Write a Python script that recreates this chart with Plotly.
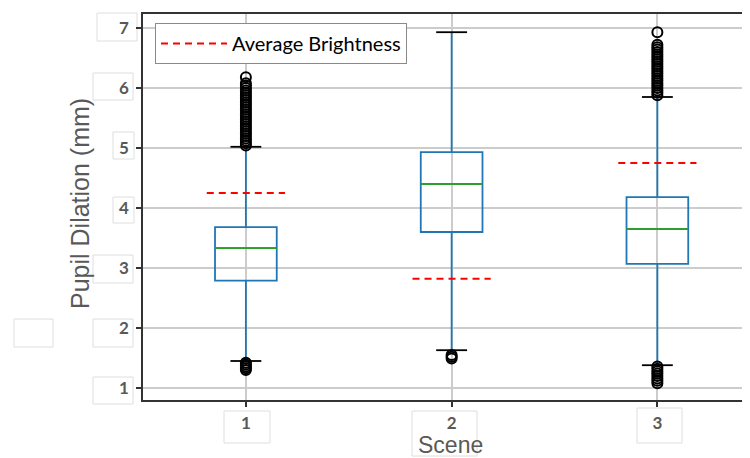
import plotly.graph_objects as go

# ---------------- data ----------------
scenes = [1, 2, 3]
q1 = [2.79, 3.60, 3.07]
medians = [3.33, 4.40, 3.65]
q3 = [3.68, 4.93, 4.18]
whisker_low = [1.45, 1.63, 1.38]
whisker_high = [5.02, 6.93, 5.85]
avg_brightness = [4.25, 2.82, 4.75]

fliers_scene1 = [1.30, 1.33, 1.36, 1.39, 1.42,
                 5.04, 5.08, 5.12, 5.16, 5.20, 5.24, 5.28, 5.32, 5.36, 5.40,
                 5.44, 5.48, 5.52, 5.56, 5.60, 5.64, 5.68, 5.72, 5.76, 5.80,
                 5.84, 5.88, 5.92, 5.96, 6.00, 6.04, 6.08, 6.18]
fliers_scene2 = [1.49, 1.52, 1.55]
fliers_scene3 = [1.08, 1.12, 1.16, 1.20, 1.24, 1.28, 1.32, 1.36,
                 5.88, 5.92, 5.96, 6.00, 6.04, 6.08, 6.12, 6.16, 6.20, 6.24,
                 6.28, 6.32, 6.36, 6.40, 6.44, 6.48, 6.52, 6.56, 6.60, 6.64,
                 6.68, 6.72, 6.93]

y_ticks = [1, 2, 3, 4, 5, 6, 7]
x_tick_labels = ["1", "2", "3"]
x_title = "Scene"
y_title = "Pupil Dilation (mm)"
legend_label = "Average Brightness"

# ---------------- geometry ----------------
PAGE_OFF = 8                 # default body margin of the html page
W, H = 750 - PAGE_OFF, 458 - PAGE_OFF
PL, PT, PB = 143, 14, 400    # plot area edges in page pixels
ML, MT, MR = PL - PAGE_OFF, PT - PAGE_OFF, 0
MB = H - (PB - PAGE_OFF)
pw, ph = W - ML - MR, H - MT - MB

BOX_W = 0.3
CAP_HALF = 0.075
AVG_HALF = 0.19


def px_x(x):
    return (x - PL) / pw


def px_y(y):
    return (PB - y) / ph


fig = go.Figure()

fig.add_trace(go.Box(
    x=scenes, q1=q1, median=medians, q3=q3,
    lowerfence=whisker_low, upperfence=whisker_high,
    width=BOX_W, whiskerwidth=0, boxpoints=False,
    line=dict(color="#1f77b4", width=1.8),
    fillcolor="rgba(0,0,0,0)", showlegend=False, hoverinfo="skip",
))

# medians (green)
mx, my = [], []
for s, m in zip(scenes, medians):
    mx += [s - BOX_W / 2, s + BOX_W / 2, None]
    my += [m, m, None]
fig.add_trace(go.Scatter(x=mx, y=my, mode="lines",
                         line=dict(color="#2ca02c", width=1.8),
                         showlegend=False, hoverinfo="skip"))

# whisker caps (black)
cx, cy = [], []
for s, lo, hi in zip(scenes, whisker_low, whisker_high):
    cx += [s - CAP_HALF, s + CAP_HALF, None, s - CAP_HALF, s + CAP_HALF, None]
    cy += [lo, lo, None, hi, hi, None]
fig.add_trace(go.Scatter(x=cx, y=cy, mode="lines",
                         line=dict(color="black", width=1.8),
                         showlegend=False, hoverinfo="skip"))

# fliers
for s, fl in zip(scenes, [fliers_scene1, fliers_scene2, fliers_scene3]):
    fig.add_trace(go.Scatter(
        x=[s] * len(fl), y=fl, mode="markers",
        marker=dict(symbol="circle-open", size=10, color="black",
                    line=dict(width=2, color="black")),
        showlegend=False, hoverinfo="skip"))

# average brightness (red dashed)
ax, ay = [], []
for s, a in zip(scenes, avg_brightness):
    ax += [s - AVG_HALF, s + AVG_HALF, None]
    ay += [a, a, None]
fig.add_trace(go.Scatter(x=ax, y=ay, mode="lines", name=legend_label,
                         line=dict(color="red", width=2, dash="7px,5px"),
                         hoverinfo="skip"))

# ---------------- decoration: faint boxes around tick labels ----------------
label_boxes = [
    (97, 13, 137, 41), (93, 73, 133, 100), (113, 132, 134, 159),
    (113, 197, 134, 223), (93, 255, 133, 283), (93, 319, 133, 347),
    (14, 319, 53, 347), (93, 377, 133, 404),
    (224, 411, 270, 443), (412, 411, 477, 456), (637, 408, 682, 443),
]
shapes = []
for (x0, y0, x1, y1) in label_boxes:
    shapes.append(dict(type="rect", xref="paper", yref="paper", layer="below",
                       x0=px_x(x0), x1=px_x(x1), y0=px_y(y1), y1=px_y(y0),
                       line=dict(color="#dedede", width=1),
                       fillcolor="white"))

tick_font = dict(family="Lato", size=17, color="#595959", weight="bold")
title_font = dict(family="Liberation Sans", size=25, color="#595959")

annotations = [
    dict(text=x_title, xref="paper", yref="paper", x=px_x(450), y=px_y(445),
         xanchor="center", yanchor="middle", showarrow=False,
         font=dict(family="Liberation Sans", size=23, color="#595959"),
         borderpad=0),
    dict(text=y_title, xref="paper", yref="paper", x=px_x(80), y=px_y(204),
         xanchor="center", yanchor="middle", showarrow=False, textangle=-90,
         font=title_font),
]

fig.update_layout(
    width=W, height=H,
    margin=dict(l=ML, r=MR, t=MT, b=MB, autoexpand=False),
    paper_bgcolor="white", plot_bgcolor="white",
    shapes=shapes, annotations=annotations,
    showlegend=True,
    legend=dict(x=px_x(155), y=px_y(23), xanchor="left", yanchor="top",
                bgcolor="white", bordercolor="#8a8a8a", borderwidth=1,
                font=dict(family="Lato", size=20, color="black"),
                itemwidth=66),
    xaxis=dict(
        range=[0.5, 0.5 + pw / 205.75],
        tickmode="array", tickvals=scenes, ticktext=x_tick_labels,
        tickfont=tick_font, ticks="outside", ticklen=5, tickwidth=1.5,
        tickcolor="#333333", ticklabelstandoff=2,
        showgrid=True, gridcolor="#cccccc", gridwidth=1.5,
        showline=True, linecolor="#333333", linewidth=1.5, mirror=True,
        zeroline=False,
    ),
    yaxis=dict(
        range=[0.8, 7.2333],
        tickmode="array", tickvals=y_ticks, ticktext=[str(v) for v in y_ticks],
        tickfont=tick_font, ticks="outside", ticklen=5, tickwidth=1.5,
        tickcolor="#333333", ticklabelstandoff=4,
        showgrid=True, gridcolor="#cccccc", gridwidth=1.5,
        showline=True, linecolor="#333333", linewidth=1.5, mirror=False,
        zeroline=False,
    ),
)

fig.write_html("out.html")
